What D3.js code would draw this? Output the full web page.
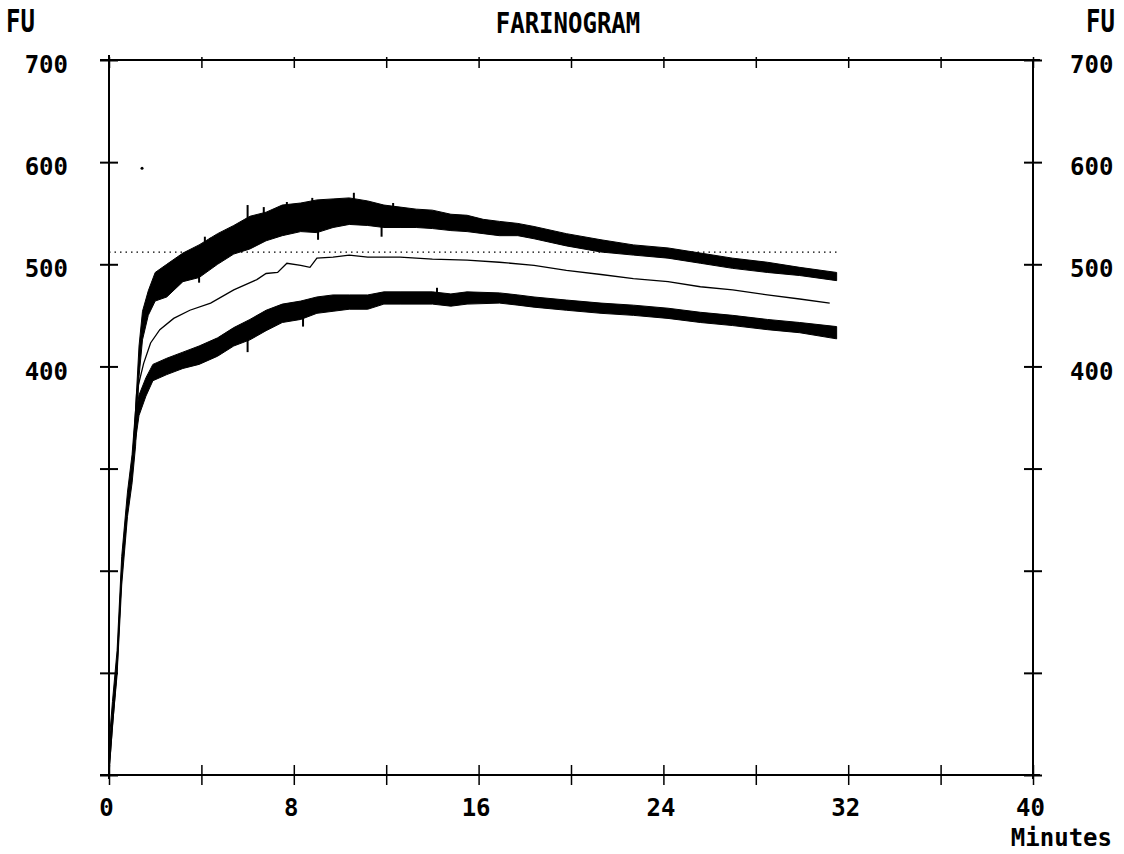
<!DOCTYPE html>
<html>
<head>
<meta charset="utf-8">
<script src="https://cdn.jsdelivr.net/npm/d3@7/dist/d3.min.js"></script>
<style>
  body { margin: 0; background: #fff; }
  text { font-family: 'DejaVu Sans Mono', monospace; font-weight: bold; font-size: 24px; fill: #000; }
</style>
</head>
<body>
<div class="stage"></div>
<script>
// page size
var width = 1124;
var height = 854;

// upper (max) trace: time in minutes, centre FU, half-thickness FU
var upperT = [0, 0.15, 0.35, 0.55, 0.8, 1.0, 1.15, 1.3, 1.45, 1.7, 2.0, 2.5, 3.2, 3.9, 4.7, 5.4, 6.1, 6.8, 7.5, 8.3, 9.0, 9.7, 10.4, 11.2, 11.9, 12.6, 13.3, 14.0, 14.8, 15.5, 16.2, 16.9, 17.7, 18.4, 19.8, 21.3, 22.7, 24.2, 25.6, 27.0, 28.5, 29.9, 31.5];
var upperV = [15, 60, 110, 200, 265, 300, 340, 405, 440, 462, 478, 484, 497, 503, 515, 524, 531, 537, 543, 546, 547, 550, 552, 550, 547, 546, 545, 544, 541, 540, 537, 535, 534, 531, 524, 518, 514, 511, 506, 501, 497, 493, 488];
var upperW = [15, 12, 12, 14, 12, 14, 18, 15, 14, 12, 14, 16, 14, 16, 15, 14, 16, 14, 15, 14, 16, 14, 13, 12, 11, 10, 9, 9, 8, 8, 7, 7, 6, 6, 6, 6, 5, 5, 5, 5, 5, 4, 4];

// lower (min) trace
var lowerT = [1.15, 1.3, 1.6, 1.9, 2.5, 3.2, 3.9, 4.7, 5.4, 6.1, 6.8, 7.5, 8.3, 9.0, 9.7, 10.4, 11.2, 11.9, 12.6, 14.0, 14.8, 15.5, 16.9, 17.7, 18.4, 19.8, 21.3, 22.7, 24.2, 25.6, 27.0, 28.5, 29.9, 31.5];
var lowerV = [340, 362, 380, 394, 400, 406, 411, 419, 429, 436, 445, 452, 455, 460, 462, 463, 463, 467, 467, 467, 465, 467, 467, 465, 463, 460, 457, 455, 452, 448, 445, 441, 438, 433];
var lowerW = [12, 10, 9, 8, 8, 8, 9, 9, 9, 10, 10, 9, 9, 8, 8, 7, 7, 6, 6, 6, 6, 6, 5, 5, 5, 5, 5, 5, 5, 5, 5, 5, 5, 6];

// mean trace (thin line)
var meanT = [0, 0.35, 0.55, 0.8, 1.0, 1.2, 1.5, 1.8, 2.2, 2.8, 3.5, 4.4, 5.4, 6.4, 6.8, 7.3, 7.7, 8.3, 8.7, 9.0, 9.7, 10.4, 11.2, 12.6, 14.0, 15.5, 16.9, 18.4, 19.8, 21.3, 22.7, 24.2, 25.6, 27.0, 28.5, 29.9, 31.2];
var meanV = [5, 105, 200, 262, 298, 375, 403, 423, 436, 447, 455, 462, 475, 485, 491, 492, 501, 499, 497, 506, 507, 509, 507, 507, 505, 504, 502, 499, 494, 490, 486, 483, 478, 475, 470, 466, 462];

// noise spikes sticking out of the bands (time, tip FU)
var upperSpikeT = [3.0, 3.9, 4.15, 4.4, 5.8, 6.0, 6.7, 7.7, 8.8, 9.05, 9.5, 10.6, 11.8, 12.3];
var upperSpikeV = [501, 482, 527, 526, 522, 558, 556, 561, 565, 524, 562, 570, 527, 560];
var lowerSpikeT = [2.3, 4.6, 6.0, 7.2, 8.4, 14.2, 31.4];
var lowerSpikeV = [392, 424, 414, 455, 439, 477, 428];

// reference line, stray dot
var refLevel = 512;
var refEnd = 31.6;
var strayDot = [1.43, 594];

// axis ticks
var xTicks = d3.range(0, 41, 4);
var xLabels = [0, 8, 16, 24, 32, 40];
var yTicks = d3.range(0, 701, 100);
var yLabels = [400, 500, 600, 700];

var x = d3.scaleLinear().domain([0, 40]).range([109, 1033]);
var y = d3.scaleLinear().domain([0, 700]).range([775, 60]);

var svg = d3.select('.stage')
  .append('svg')
  .attr('width', width)
  .attr('height', height);

// frame
var frame = [
  [100, 60, 1040, 60],
  [100, 775, 1040, 775],
  [109, 55, 109, 779],
  [1033, 60, 1033, 779]
];
svg.selectAll('line.frame')
  .data(frame)
  .enter()
  .append('line')
  .attr('class', 'frame')
  .attr('x1', function(d) { return d[0]; })
  .attr('y1', function(d) { return d[1]; })
  .attr('x2', function(d) { return d[2]; })
  .attr('y2', function(d) { return d[3]; })
  .attr('stroke', '#000')
  .attr('stroke-width', 2);

// bottom axis
var axisB = svg.append('g')
  .attr('transform', 'translate(0,775)')
  .call(d3.axisBottom(x).tickValues(xTicks).tickSize(10)
    .tickFormat(function(d) { return xLabels.indexOf(d) >= 0 ? d : ''; }));
axisB.select('.domain').remove();
axisB.selectAll('.tick line').attr('y1', -10).attr('y2', 10).attr('stroke-width', 1.5);
axisB.selectAll('.tick text').attr('y', 24).attr('dx', -3);

// top axis
var axisT = svg.append('g')
  .attr('transform', 'translate(0,60)')
  .call(d3.axisTop(x).tickValues(xTicks).tickFormat(''));
axisT.select('.domain').remove();
axisT.selectAll('.tick line').attr('y1', -3).attr('y2', 8).attr('stroke-width', 1.5);

// left axis
var axisL = svg.append('g')
  .attr('transform', 'translate(109,0)')
  .call(d3.axisLeft(y).tickValues(yTicks).tickSize(8)
    .tickFormat(function(d) { return yLabels.indexOf(d) >= 0 ? d : ''; }));
axisL.select('.domain').remove();
axisL.selectAll('.tick line').attr('x1', -9).attr('x2', 9).attr('stroke-width', 2);
axisL.selectAll('.tick text').attr('x', -41).attr('y', 5);

// right axis
var axisR = svg.append('g')
  .attr('transform', 'translate(1033,0)')
  .call(d3.axisRight(y).tickValues(yTicks).tickSize(8)
    .tickFormat(function(d) { return yLabels.indexOf(d) >= 0 ? d : ''; }));
axisR.select('.domain').remove();
axisR.selectAll('.tick line').attr('x1', -9).attr('x2', 9).attr('stroke-width', 2);
axisR.selectAll('.tick text').attr('x', 37).attr('y', 5);

// titles
svg.append('text').attr('transform', 'translate(568,33) scale(1,1.15)')
  .attr('text-anchor', 'middle').text('FARINOGRAM');
svg.append('text').attr('transform', 'translate(6,32) scale(1,1.3)').text('FU');
svg.append('text').attr('transform', 'translate(1086,32) scale(1,1.3)').text('FU');
svg.append('text').attr('x', 1112).attr('y', 846).attr('text-anchor', 'end').text('Minutes');

// reference dotted line
svg.append('line')
  .attr('x1', x(0)).attr('x2', x(refEnd))
  .attr('y1', y(refLevel)).attr('y2', y(refLevel))
  .attr('stroke', '#000')
  .attr('stroke-width', 1.2)
  .attr('stroke-dasharray', '1.5,4');

svg.append('circle')
  .attr('cx', x(strayDot[0])).attr('cy', y(strayDot[1]))
  .attr('r', 1.5).attr('fill', '#000');

// bands
var band = function(ts, vs, ws) {
  var pts = ts.map(function(t, i) { return [t, vs[i], ws[i]]; });
  var area = d3.area()
    .x(function(d) { return x(d[0]); })
    .y0(function(d) { return y(d[1] - d[2]); })
    .y1(function(d) { return y(d[1] + d[2]); });
  svg.append('path')
    .datum(pts)
    .attr('d', area)
    .attr('fill', '#000')
    .attr('stroke', '#000')
    .attr('stroke-width', 1);
};
band(upperT, upperV, upperW);
band(lowerT, lowerV, lowerW);

// spikes
var spikes = function(ts, vs, baseT, baseV) {
  svg.selectAll(null)
    .data(ts)
    .enter()
    .append('line')
    .attr('x1', function(d) { return x(d); })
    .attr('x2', function(d) { return x(d); })
    .attr('y1', function(d) {
      var i = d3.bisectLeft(baseT, d);
      var a = i > 0 ? i - 1 : 0, b = Math.min(i, baseT.length - 1);
      var f = b === a ? 0 : (d - baseT[a]) / (baseT[b] - baseT[a]);
      return y(baseV[a] + f * (baseV[b] - baseV[a]));
    })
    .attr('y2', function(d, i) { return y(vs[i]); })
    .attr('stroke', '#000')
    .attr('stroke-width', 2);
};
spikes(upperSpikeT, upperSpikeV, upperT, upperV);
spikes(lowerSpikeT, lowerSpikeV, lowerT, lowerV);

// mean line
var meanLine = d3.line()
  .x(function(d) { return x(d[0]); })
  .y(function(d) { return y(d[1]); });
svg.append('path')
  .datum(meanT.map(function(t, i) { return [t, meanV[i]]; }))
  .attr('d', meanLine)
  .attr('fill', 'none')
  .attr('stroke', '#000')
  .attr('stroke-width', 1.3);
</script>
</body>
</html>
